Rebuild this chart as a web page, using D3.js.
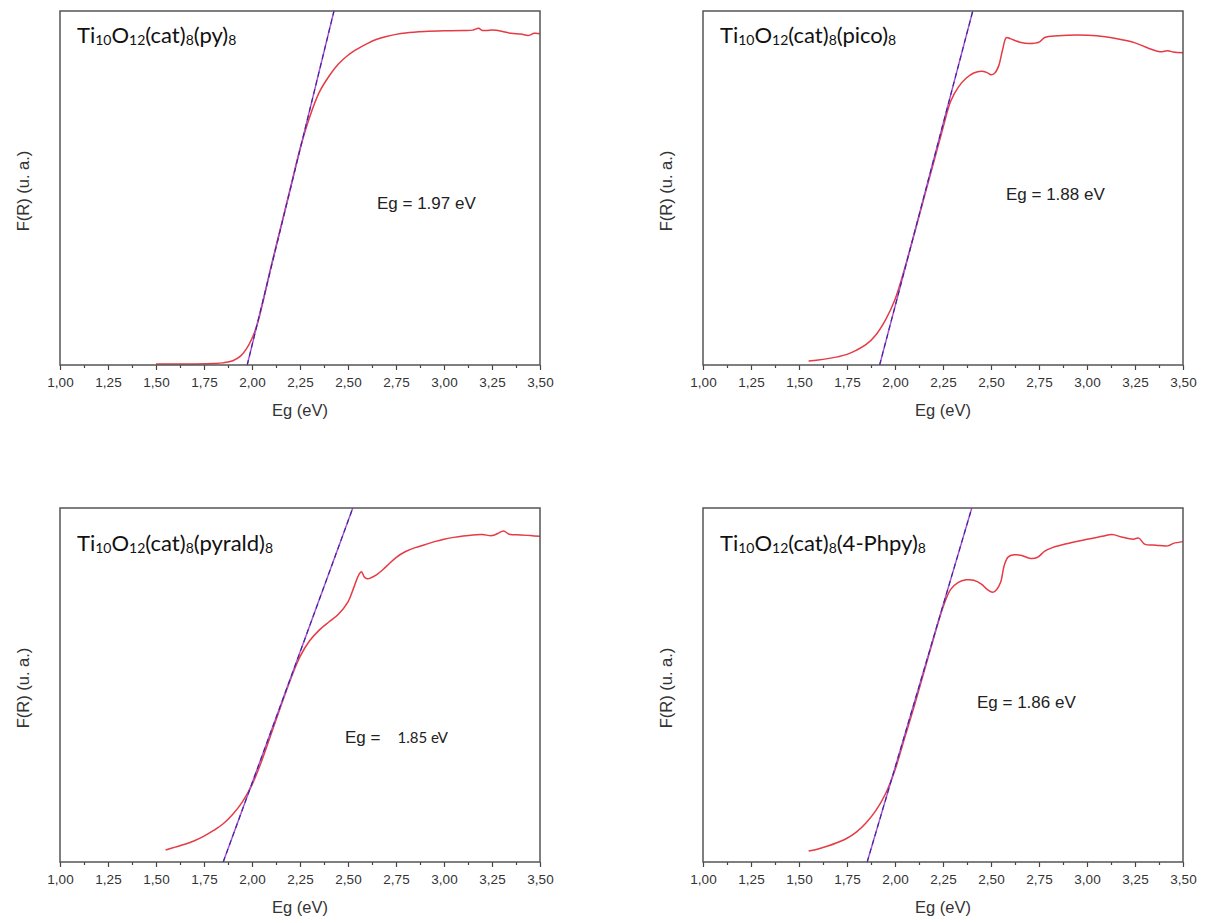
<!DOCTYPE html>
<html>
<head>
<meta charset="utf-8">
<script src="https://cdn.jsdelivr.net/npm/d3@7"></script>
<style>
  html, body { margin: 0; padding: 0; background: #ffffff; }
  svg { display: block; }
</style>
</head>
<body>
<svg id="chart" width="1210" height="923"></svg>
<script>
// ---------- data ----------
const xTickValues = [1.00, 1.25, 1.50, 1.75, 2.00, 2.25, 2.50, 2.75, 3.00, 3.25, 3.50];
const xMinorValues = [1.125, 1.375, 1.625, 1.875, 2.125, 2.375, 2.625, 2.875, 3.125, 3.375];

const ligands = ["py", "pico", "pyrald", "4-Phpy"];
const bandGaps = ["1.97", "1.88", "1.85", "1.86"];

// F(R) in arbitrary units (0 = axis, 1 = top of frame), x = Eg (eV)
const seriesPy = [
  [1.50,0.003],[1.60,0.003],[1.70,0.003],[1.80,0.004],[1.85,0.006],[1.90,0.012],[1.94,0.025],
  [1.97,0.045],[2.00,0.075],[2.03,0.12],[2.06,0.185],[2.10,0.28],[2.15,0.39],[2.20,0.50],
  [2.25,0.61],[2.30,0.70],[2.35,0.77],[2.40,0.815],[2.45,0.85],[2.50,0.875],[2.55,0.893],
  [2.60,0.908],[2.65,0.92],[2.70,0.928],[2.75,0.934],[2.80,0.938],[2.90,0.942],[3.00,0.944],
  [3.10,0.945],[3.15,0.946],[3.18,0.951],[3.20,0.945],[3.25,0.946],[3.30,0.943],[3.35,0.937],
  [3.40,0.935],[3.44,0.931],[3.47,0.937],[3.50,0.936]
];
const seriesPico = [
  [1.55,0.011],[1.60,0.014],[1.65,0.018],[1.70,0.023],[1.75,0.030],[1.80,0.042],[1.85,0.058],
  [1.90,0.085],[1.95,0.127],[2.00,0.185],[2.05,0.272],[2.10,0.37],[2.15,0.47],[2.20,0.57],
  [2.25,0.67],[2.29,0.745],[2.33,0.785],[2.37,0.81],[2.41,0.825],[2.45,0.83],[2.48,0.826],
  [2.50,0.82],[2.52,0.825],[2.54,0.845],[2.56,0.89],[2.58,0.925],[2.60,0.922],[2.65,0.912],
  [2.70,0.908],[2.75,0.912],[2.78,0.925],[2.85,0.93],[2.95,0.932],[3.05,0.93],[3.15,0.922],
  [3.25,0.91],[3.32,0.895],[3.38,0.885],[3.42,0.888],[3.45,0.884],[3.50,0.882]
];
const seriesPyrald = [
  [1.55,0.034],[1.60,0.042],[1.65,0.05],[1.70,0.06],[1.75,0.073],[1.80,0.089],[1.85,0.108],
  [1.90,0.135],[1.95,0.170],[2.00,0.218],[2.05,0.285],[2.10,0.362],[2.15,0.44],[2.20,0.515],
  [2.25,0.58],[2.30,0.625],[2.35,0.655],[2.40,0.678],[2.45,0.70],[2.50,0.735],[2.53,0.775],
  [2.555,0.81],[2.57,0.82],[2.585,0.805],[2.60,0.80],[2.65,0.812],[2.70,0.835],[2.75,0.86],
  [2.80,0.877],[2.85,0.888],[2.90,0.896],[2.95,0.905],[3.00,0.912],[3.05,0.917],[3.10,0.921],
  [3.15,0.924],[3.20,0.925],[3.25,0.922],[3.28,0.928],[3.31,0.935],[3.34,0.926],[3.40,0.924],
  [3.45,0.922],[3.50,0.92]
];
const seriesPhpy = [
  [1.55,0.031],[1.60,0.037],[1.65,0.045],[1.70,0.055],[1.75,0.067],[1.80,0.085],[1.85,0.111],
  [1.90,0.145],[1.95,0.192],[2.00,0.26],[2.05,0.35],[2.10,0.44],[2.15,0.535],[2.20,0.63],
  [2.25,0.72],[2.29,0.77],[2.33,0.79],[2.37,0.797],[2.41,0.796],[2.45,0.785],[2.48,0.77],
  [2.51,0.762],[2.53,0.77],[2.55,0.79],[2.57,0.84],[2.59,0.862],[2.62,0.868],[2.66,0.866],
  [2.70,0.858],[2.74,0.86],[2.78,0.878],[2.82,0.888],[2.90,0.90],[3.00,0.912],[3.08,0.92],
  [3.13,0.925],[3.18,0.918],[3.24,0.912],[3.27,0.915],[3.30,0.898],[3.36,0.895],[3.42,0.893],
  [3.45,0.90],[3.50,0.905]
];

// linear-fit (Tauc) lines: [Eg at F(R)=0, Eg at top of frame]
const tangentPy = [[1.975,0],[2.427,1]];
const tangentPico = [[1.92,0],[2.405,1]];
const tangentPyrald = [[1.85,0],[2.525,1]];
const tangentPhpy = [[1.855,0],[2.40,1]];

const allSeries = [seriesPy, seriesPico, seriesPyrald, seriesPhpy];
const allTangents = [tangentPy, tangentPico, tangentPyrald, tangentPhpy];

// ---------- layout ----------
const panels = [
  {x0: 60,  x1: 540,  y0: 11,  y1: 365, titleY: 43,  egX: 377, egY: 209},
  {x0: 703, x1: 1183, y0: 11,  y1: 365, titleY: 43,  egX: 1006, egY: 200},
  {x0: 60,  x1: 540,  y0: 508, y1: 862, titleY: 551, egX: 345, egY: 743},
  {x0: 703, x1: 1183, y0: 508, y1: 862, titleY: 551, egX: 977, egY: 708}
];

const svg = d3.select("#chart");
const fmt = d => d3.format(".2f")(d).replace(".", ",");
const labelFont = "'Liberation Sans', Arial, sans-serif";
const titleFont = "Lato, 'Open Sans', sans-serif";

panels.forEach((p, i) => {
  const x = d3.scaleLinear().domain([1.0, 3.5]).range([p.x0, p.x1]);
  const y = d3.scaleLinear().domain([0, 1]).range([p.y1, p.y0]);
  const g = svg.append("g");

  // minor ticks
  g.append("g")
    .attr("transform", `translate(0,${p.y1})`)
    .call(d3.axisBottom(x).tickValues(xMinorValues).tickSize(3).tickFormat(""))
    .call(a => a.select(".domain").remove())
    .call(a => a.selectAll("line").attr("stroke", "#444").attr("stroke-width", 1.2));

  // major axis
  g.append("g")
    .attr("transform", `translate(0,${p.y1})`)
    .call(d3.axisBottom(x).tickValues(xTickValues).tickSize(5).tickPadding(7).tickFormat(fmt))
    .call(a => a.select(".domain").remove())
    .call(a => a.selectAll("line").attr("stroke", "#444").attr("stroke-width", 1.2))
    .call(a => a.selectAll("text").attr("font-family", labelFont).attr("font-size", 13.5).attr("fill", "#333"));

  // data curve
  const line = d3.line().x(d => x(d[0])).y(d => y(d[1])).curve(d3.curveCatmullRom.alpha(0.5));
  g.append("path")
    .datum(allSeries[i])
    .attr("d", line)
    .attr("fill", "none")
    .attr("stroke", "#e63a44")
    .attr("stroke-width", 1.5);

  // tangent line
  const tl = d3.line().x(d => x(d[0])).y(d => y(d[1]));
  g.append("path").datum(allTangents[i]).attr("d", tl)
    .attr("fill", "none").attr("stroke", "#b04ad0").attr("stroke-width", 1.4);
  g.append("path").datum(allTangents[i]).attr("d", tl)
    .attr("fill", "none").attr("stroke", "#2a2a9a").attr("stroke-width", 1.1)
    .attr("stroke-dasharray", "5,4");

  // frame
  g.append("rect")
    .attr("x", p.x0).attr("y", p.y0)
    .attr("width", p.x1 - p.x0).attr("height", p.y1 - p.y0)
    .attr("fill", "none").attr("stroke", "#555").attr("stroke-width", 1.5);

  // axis labels
  g.append("text")
    .attr("x", (p.x0 + p.x1) / 2).attr("y", p.y1 + 51)
    .attr("text-anchor", "middle")
    .attr("font-family", labelFont).attr("font-size", 16.5).attr("fill", "#333")
    .text("Eg (eV)");
  g.append("text")
    .attr("transform", `translate(${p.x0 - 31},${(p.y0 + p.y1) / 2 + 3}) rotate(-90)`)
    .attr("text-anchor", "middle")
    .attr("font-family", labelFont).attr("font-size", 16.5).attr("fill", "#333")
    .text("F(R) (u. a.)");

  // title with subscripts
  const t = g.append("text")
    .attr("x", p.x0 + 17).attr("y", p.titleY)
    .attr("font-family", titleFont).attr("font-size", 22).attr("fill", "#111");
  const parts = [["Ti", false], ["10", true], ["O", false], ["12", true], ["(cat)", false], ["8", true], ["(" + ligands[i] + ")", false], ["8", true]];
  parts.forEach(([s, sub]) => {
    t.append("tspan")
      .attr("font-size", sub ? 14 : 22)
      .attr("baseline-shift", sub ? "-2" : null)
      .text(s);
  });

  // band-gap label
  if (i === 2) {
    const e = g.append("text").attr("x", p.egX).attr("y", p.egY)
      .attr("font-family", labelFont).attr("font-size", 17).attr("fill", "#222");
    e.append("tspan").text("Eg =");
    e.append("tspan").attr("font-family", titleFont).attr("font-size", 15).attr("dx", 17).text(bandGaps[i] + " eV");
  } else {
    g.append("text").attr("x", p.egX).attr("y", p.egY)
      .attr("font-family", labelFont).attr("font-size", 17).attr("fill", "#222")
      .text("Eg = " + bandGaps[i] + " eV");
  }
});
</script>
</body>
</html>
